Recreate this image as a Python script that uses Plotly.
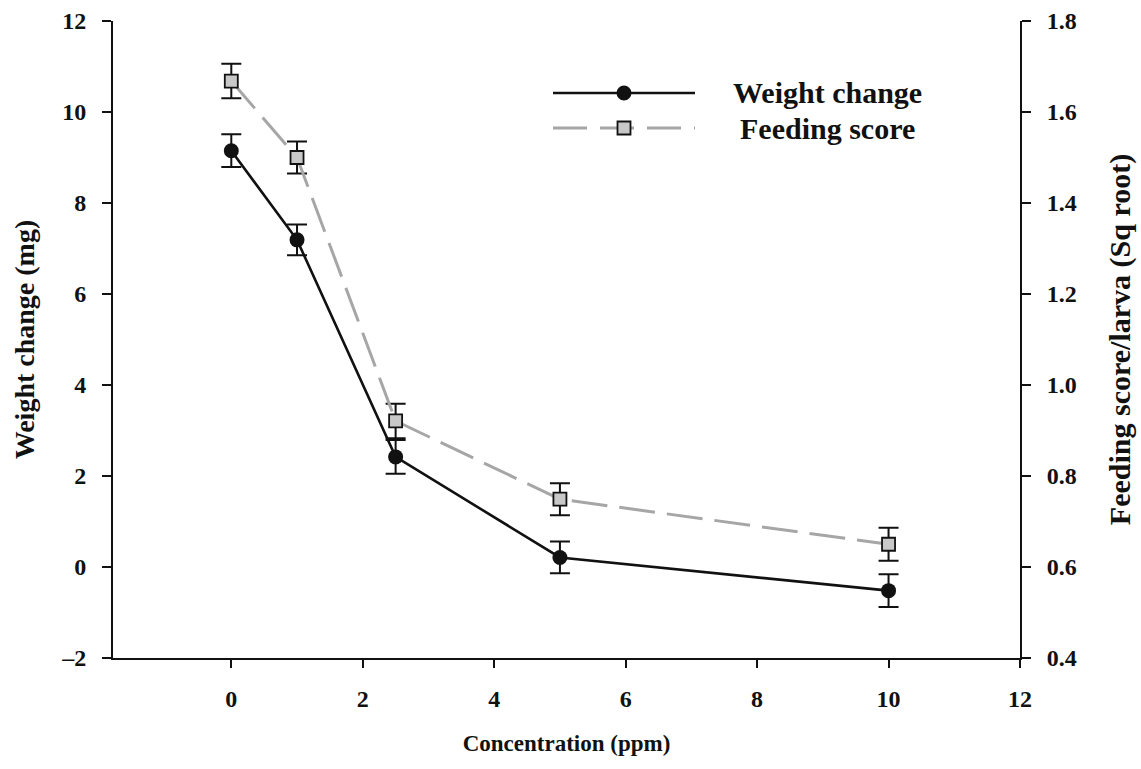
import plotly.graph_objects as go

# ---- data ----
concentration = [0, 1, 2.5, 5, 10]
weight_change = [9.15, 7.19, 2.42, 0.21, -0.52]
weight_err = [0.36, 0.34, 0.37, 0.35, 0.36]
feeding_score = [1.668, 1.50, 0.921, 0.749, 0.65]
feeding_err = [0.038, 0.035, 0.038, 0.035, 0.036]

x_ticks = [0, 2, 4, 6, 8, 10, 12]
y1_ticks = [-2, 0, 2, 4, 6, 8, 10, 12]
y1_labels = ["\u20132", "0", "2", "4", "6", "8", "10", "12"]
y2_ticks = [0.4, 0.6, 0.8, 1.0, 1.2, 1.4, 1.6, 1.8]
y2_labels = ["0.4", "0.6", "0.8", "1.0", "1.2", "1.4", "1.6", "1.8"]

FONT = "Liberation Serif"
W, H = 1141, 769
L, R, T, B = 113, 121, 21, 111
PW, PH = W - L - R, H - T - B


def px(xp):
    return (xp - L) / PW


def py(yp):
    return (H - B - yp) / PH


fig = go.Figure()

fig.add_trace(go.Scatter(
    x=concentration, y=feeding_score, yaxis="y2", name="Feeding score",
    mode="lines+markers",
    line=dict(color="#a6a6a6", width=3, dash="36px,12px"),
    marker=dict(symbol="square", size=13, color="#c8c8c8",
                line=dict(color="#111111", width=1.8)),
    error_y=dict(type="data", array=feeding_err, visible=True,
                 color="#111111", thickness=2, width=10),
    showlegend=False,
))

fig.add_trace(go.Scatter(
    x=concentration, y=weight_change, name="Weight change",
    mode="lines+markers",
    line=dict(color="#111111", width=2.6),
    marker=dict(symbol="circle", size=15, color="#111111"),
    error_y=dict(type="data", array=weight_err, visible=True,
                 color="#111111", thickness=2, width=10),
    showlegend=False,
))

tickfont = dict(family=FONT, size=24, color="#111111")

fig.update_layout(
    width=W, height=H,
    margin=dict(l=L, r=R, t=T, b=B, autoexpand=False),
    paper_bgcolor="white", plot_bgcolor="white",
    font=dict(family=FONT, color="#111111"),
    xaxis=dict(
        range=[-1.8, 12], tickvals=x_ticks, ticktext=[f"<b>{v}</b>" for v in x_ticks],
        showline=True, linecolor="#111111", linewidth=2,
        ticks="outside", ticklen=8, tickwidth=2, tickcolor="#111111",
        showgrid=False, zeroline=False, tickfont=tickfont,
        ticklabelstandoff=10,
        title=dict(text="<b>Concentration (ppm)</b>",
                   font=dict(family=FONT, size=23, color="#111111"), standoff=24),
    ),
    yaxis=dict(
        range=[-2, 12], tickvals=y1_ticks, ticktext=[f"<b>{t}</b>" for t in y1_labels],
        showline=True, linecolor="#111111", linewidth=2,
        ticks="outside", ticklen=9, tickwidth=2, tickcolor="#111111",
        showgrid=False, zeroline=False, tickfont=tickfont,
        ticklabelstandoff=11,
        title=dict(text="<b>Weight change (mg)</b>",
                   font=dict(family=FONT, size=28, color="#111111"), standoff=18),
    ),
    yaxis2=dict(
        range=[0.4, 1.8], tickvals=y2_ticks, ticktext=[f"<b>{t}</b>" for t in y2_labels],
        overlaying="y", side="right",
        showline=True, linecolor="#111111", linewidth=2,
        ticks="outside", ticklen=9, tickwidth=2, tickcolor="#111111",
        showgrid=False, zeroline=False, tickfont=tickfont,
        ticklabelstandoff=11,
        title=dict(text="<b>Feeding score/larva (Sq root)</b>",
                   font=dict(family=FONT, size=30, color="#111111"), standoff=33),
    ),
)

# ---- manual legend ----
shapes = [
    dict(type="line", xref="paper", yref="paper", x0=px(553), x1=px(695), y0=py(93), y1=py(93),
         line=dict(color="#111111", width=2.6)),
    dict(type="circle", xref="paper", yref="paper", xsizemode="pixel", ysizemode="pixel",
         xanchor=px(624), yanchor=py(93), x0=-7.5, x1=7.5, y0=-7.5, y1=7.5,
         fillcolor="#111111", line=dict(color="#111111", width=0)),
    dict(type="line", xref="paper", yref="paper", x0=px(553), x1=px(695), y0=py(128), y1=py(128),
         line=dict(color="#a6a6a6", width=3, dash="34px,13px")),
    dict(type="rect", xref="paper", yref="paper", xsizemode="pixel", ysizemode="pixel",
         xanchor=px(624), yanchor=py(128), x0=-6.5, x1=6.5, y0=-6.5, y1=6.5,
         fillcolor="#c8c8c8", line=dict(color="#111111", width=1.8)),
]
fig.update_layout(shapes=shapes)

legfont = dict(family=FONT, size=30, color="#111111")
fig.add_annotation(x=px(827), y=py(93), xref="paper", yref="paper", text="<b>Weight change</b>",
                   showarrow=False, xanchor="center", yanchor="middle", font=legfont)
fig.add_annotation(x=px(827), y=py(128), xref="paper", yref="paper", text="<b>Feeding score</b>",
                   showarrow=False, xanchor="center", yanchor="middle", font=legfont)

fig.write_html("out.html", config={"displayModeBar": False},
               post_script="document.body.style.margin='0';document.body.style.padding='0';")
